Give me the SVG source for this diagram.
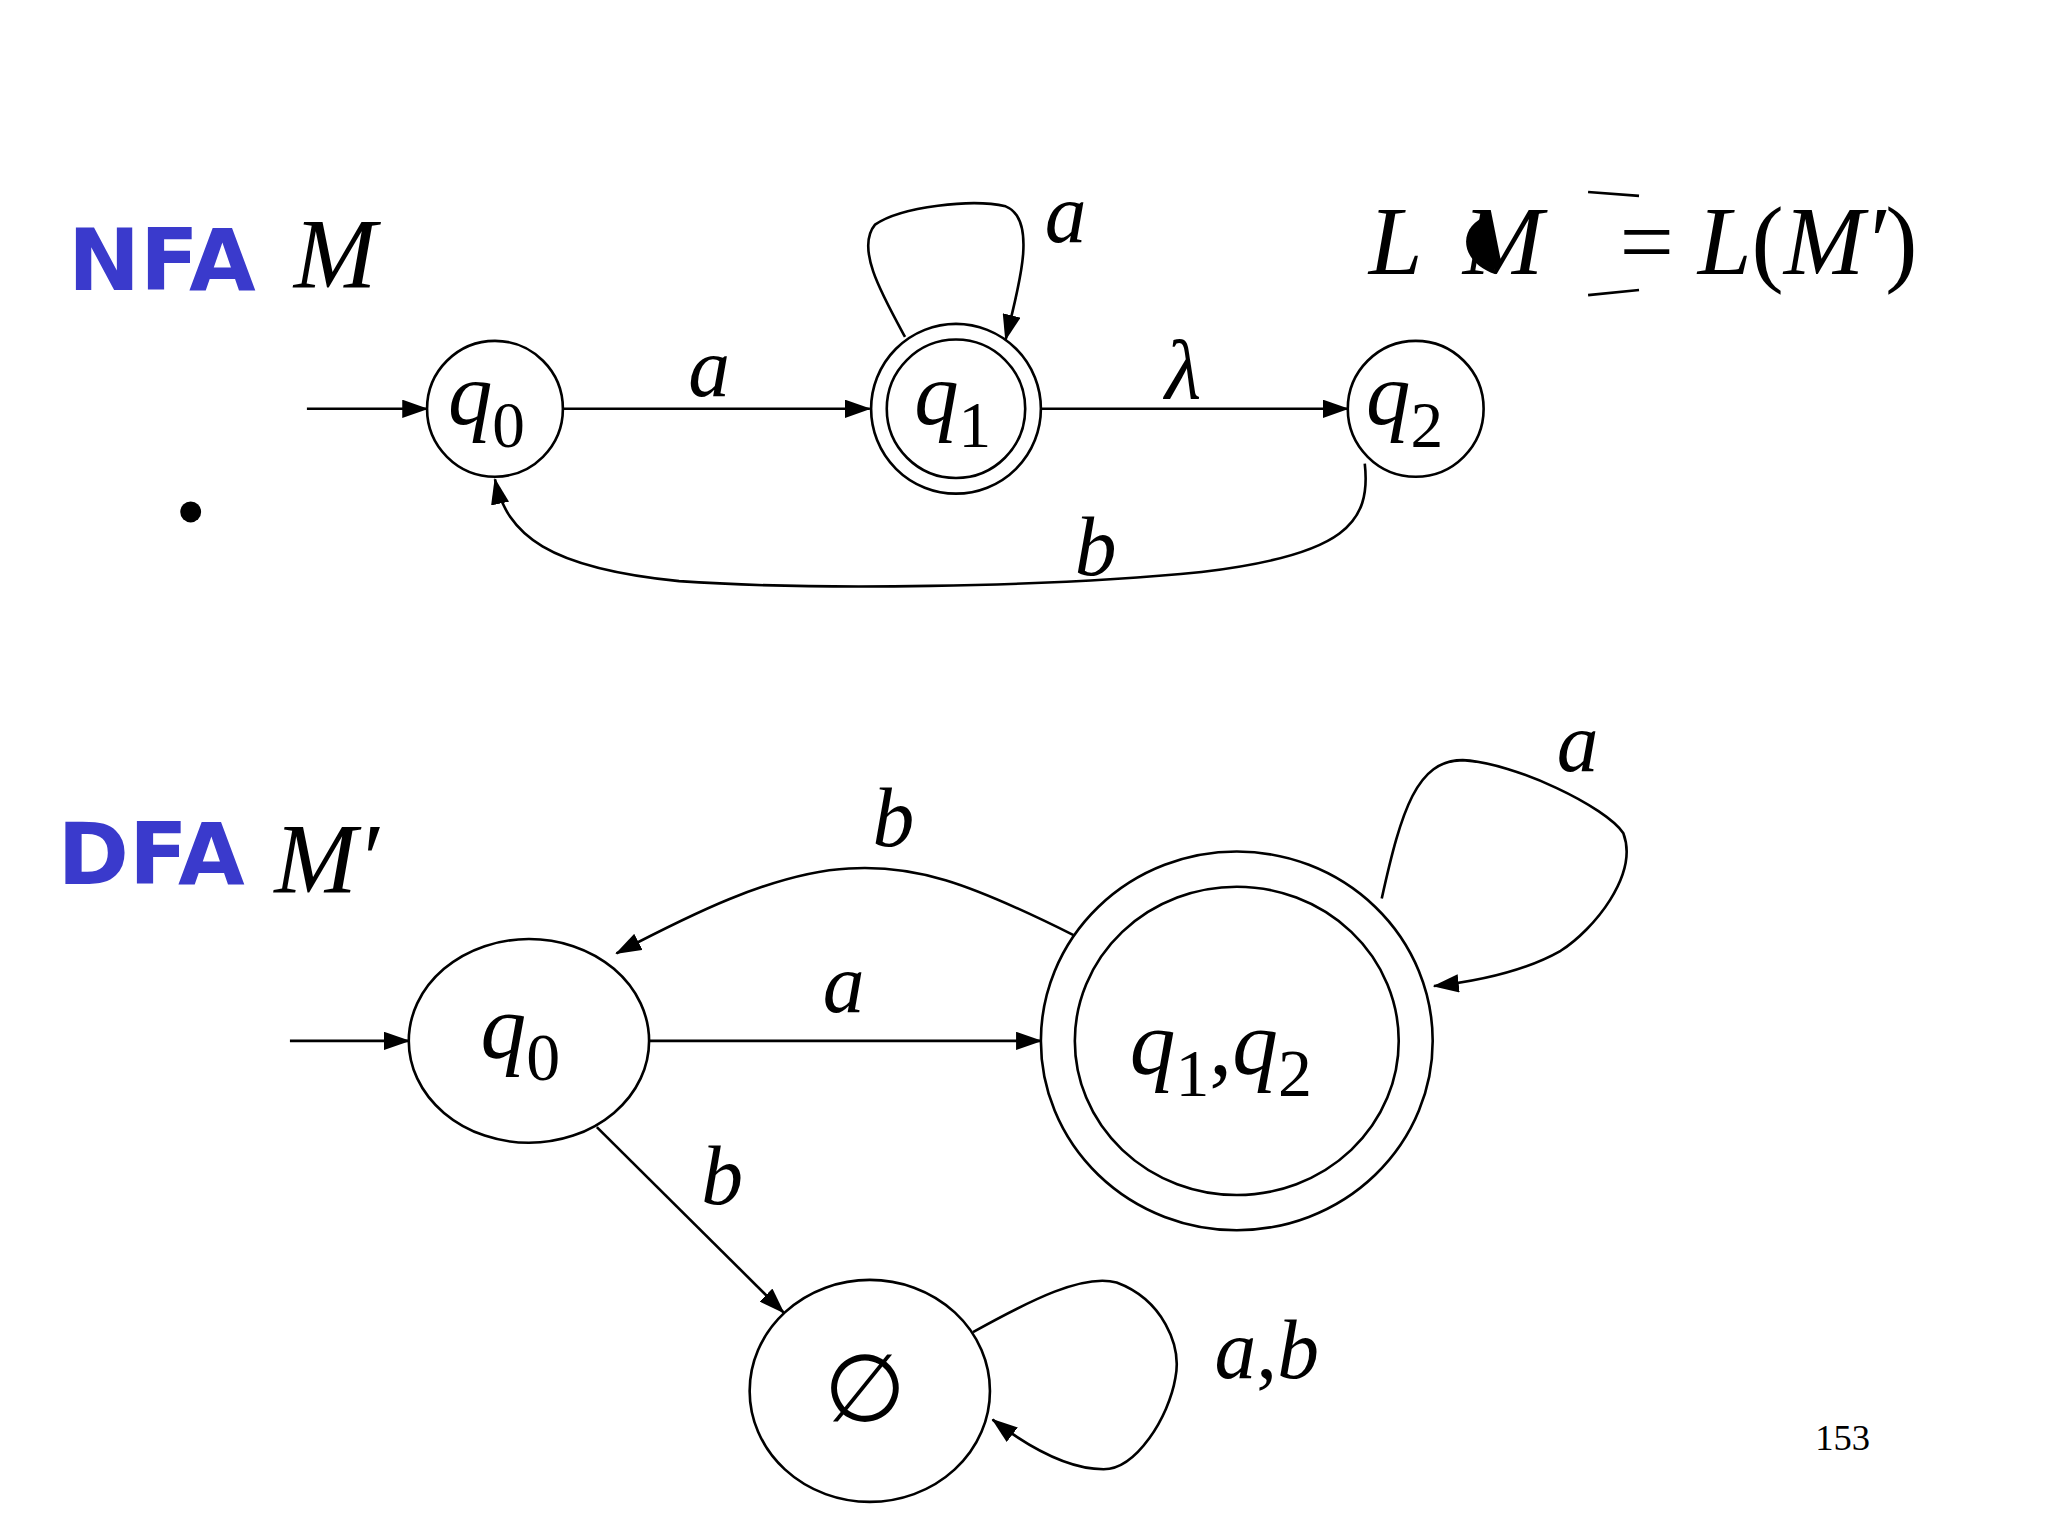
<svg xmlns="http://www.w3.org/2000/svg" width="2048" height="1536" viewBox="0 0 2048 1536">
<defs>
<marker id="ah2" markerWidth="20" markerHeight="14" refX="19" refY="7" orient="auto" markerUnits="userSpaceOnUse"><path d="M0,0 L20,7 L0,14 z" fill="#000"/></marker>
<style>
.n{fill:#fff;stroke:#000;stroke-width:2}
.e{fill:none;stroke:#000;stroke-width:2;marker-end:url(#ah2)}
.m{font-family:"Liberation Serif",serif;font-style:italic;fill:#000}
.r{font-family:"Liberation Serif",serif;font-style:normal}
.t{font-family:"DejaVu Sans",sans-serif;font-weight:bold;fill:#3a3acc}
</style>
</defs>
<rect width="2048" height="1536" fill="#fff"/>
<g transform="scale(1.306)">
<text class="t" x="52" y="222" font-size="66">NFA</text>
<text class="m" x="225" y="220" font-size="76">M</text>
<circle cx="146" cy="392" r="8" fill="#000"/>
<text class="m" x="1048" y="210" font-size="74">L</text>
<path d="M1140,165 C1116,172 1116,200 1145,210 Z" fill="#000"/>
<text class="m" x="1120" y="210" font-size="74">M</text>
<line x1="1216" y1="147" x2="1255" y2="150" stroke="#000" stroke-width="2"/>
<line x1="1216" y1="226" x2="1255" y2="222" stroke="#000" stroke-width="2"/>
<text class="m" x="1240" y="210" font-size="74"><tspan class="r">=</tspan></text>
<text class="m" x="1300" y="210" font-size="74">L<tspan class="r">(</tspan>M′<tspan class="r">)</tspan></text>
<text class="t" x="44" y="677" font-size="66">DFA</text>
<text class="m" x="210" y="683" font-size="76">M′</text>
<g id="connectors">
<line class="e" x1="235" y1="313" x2="327" y2="313"/>
<line class="e" x1="431" y1="313" x2="666" y2="313"/>
<path class="e" d="M693,258 C675,225 655,190 670,172 C690,158 745,152 770,158 C795,168 780,220 770,260"/>
<line class="e" x1="797" y1="313" x2="1032" y2="313"/>
<path class="e" d="M1045,355 C1050,400 1030,425 920,438 C800,450 620,452 520,445 C420,435 388,410 379,367"/>
<line class="e" x1="222" y1="797" x2="313" y2="797"/>
<line class="e" x1="497" y1="797" x2="797" y2="797"/>
<path class="e" d="M822,716 C740,675 700,662 650,665 C590,668 520,705 472,730"/>
<path class="e" d="M1058,688 C1073,620 1085,582 1120,582 C1160,584 1230,618 1243,638 C1255,670 1220,712 1195,728 C1165,745 1125,752 1098,755"/>
<line class="e" x1="457" y1="863" x2="600" y2="1005"/>
<path class="e" d="M745,1020 C790,995 830,975 855,982 C890,995 905,1030 900,1055 C895,1085 870,1125 845,1125 C820,1125 790,1110 760,1087"/>
</g>
<g class="m" font-size="64">
<text x="527" y="303">a</text>
<text x="800" y="185">a</text>
<text x="892" y="305">λ</text>
<text x="823" y="440">b</text>
<text x="630" y="775">a</text>
<text x="668" y="648">b</text>
<text x="1192" y="590">a</text>
<text x="537" y="922">b</text>
<text x="930" y="1055">a<tspan class="r">,</tspan>b</text>
</g>
<g id="q0"><circle class="n" cx="379" cy="313" r="52"/><text class="m" x="343" y="325" font-size="68">q<tspan class="r" font-size="50" dy="17">0</tspan></text></g>
<g id="q1"><circle class="n" cx="732" cy="313" r="65"/><circle class="n" cx="732" cy="313" r="53"/><text class="m" x="700" y="325" font-size="68">q<tspan class="r" font-size="50" dy="17">1</tspan></text></g>
<g id="q2"><circle class="n" cx="1084" cy="313" r="52"/><text class="m" x="1046" y="325" font-size="68">q<tspan class="r" font-size="50" dy="17">2</tspan></text></g>
<g id="d0"><ellipse class="n" cx="405" cy="797" rx="92" ry="78"/><text class="m" x="368" y="810" font-size="70">q<tspan class="r" font-size="52" dy="17">0</tspan></text></g>
<g id="d12"><ellipse class="n" cx="947" cy="797" rx="150" ry="145"/><ellipse class="n" cx="947" cy="797" rx="124" ry="118"/><text class="m" x="865" y="822" font-size="70">q<tspan class="r" font-size="52" dy="17">1</tspan><tspan class="r" dy="-17">,</tspan>q<tspan class="r" font-size="52" dy="17">2</tspan></text></g>
<g id="empty"><ellipse class="n" cx="666" cy="1065" rx="92" ry="85"/><text class="r" x="662" y="1088" font-size="72" text-anchor="middle" font-family="Liberation Serif,serif">∅</text></g>
<text x="1390" y="1110" font-size="28" font-family="Liberation Serif,serif">153</text>
</g>
</svg>
